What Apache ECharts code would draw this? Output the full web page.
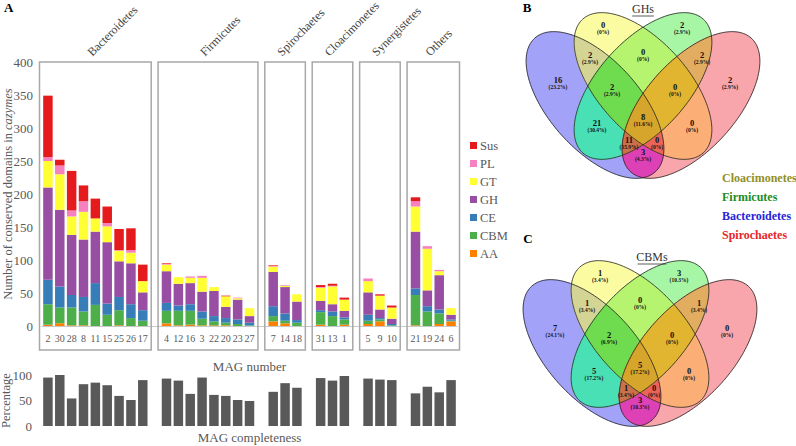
<!DOCTYPE html>
<html><head><meta charset="utf-8">
<script src="https://cdn.jsdelivr.net/npm/echarts@6/dist/echarts.min.js"></script>
<style>html,body{margin:0;padding:0;background:#fff}#c{width:796px;height:446px}</style>
</head><body><div id="c"></div>
<script>
// ---------- DATA ----------
const groups = ['Bacteroidetes','Firmicutes','Spirochaetes','Cloacimonetes','Synergistetes','Others'];
const groupMags = [
  ['2','30','28','8','11','15','25','26','17'],
  ['4','12','16','3','22','20','23','27'],
  ['7','14','18'],
  ['31','13','1'],
  ['5','9','10'],
  ['21','19','24','6']
];
// values per MAG, in the flattened order of groupMags
const AA  = [2,4,1,1,0,0,1,0,0,   4,1,2,1,1,1,0,0,   7,4,0,  2,0,2,  3,7,0,  1,0,3,7];
const CBM = [31,24,27,21,32,17,23,12,8, 19,22,21,10,6,4,3,1, 8,4,5, 19,15,8, 5,3,1, 46,22,16,1];
const CE  = [37,32,19,22,33,17,20,21,16, 12,8,10,11,8,7,7,4, 15,11,4, 3,7,3, 9,2,2, 10,8,6,2];
const GH  = [140,116,91,87,78,93,54,62,27, 48,33,32,30,38,17,30,10, 52,40,28, 14,11,10, 34,13,8, 86,24,52,7];
const GT  = [40,54,28,42,20,24,16,16,17, 10,10,8,21,6,16,2,12, 8,2,11, 20,27,17, 17,21,17, 38,63,6,10];
const PL  = [6,13,9,16,0,5,1,4,0, 1,0,2,3,0,0,1,0, 1,1,0, 1,1,0, 4,0,0, 8,4,2,0];
const Sus = [93,9,60,24,30,25,32,33,25, 1,0,0,0,0,1,0,0, 1,0,0, 3,3,3, 0,2,3, 6,0,0,0];
const completeness = [95,100,54,82,85,80,59,51,90, 93,89,63,95,61,59,51,49, 67,84,75, 94,89,98, 93,91,90, 64,77,66,90];
const yTicks = [0,50,100,150,200,250,300,350,400];

// Venn region order: yOnly, gOnly, by, yg, gp, bOnly, byg, ygp, pOnly, bg, all, yp, bgp, byp, bp
const vennGH  = [0,2,2,0,2,16,2,0,2,21,8,0,11,0,3];
const vennCBM = [1,3,1,0,1,7,2,0,0,5,5,0,1,0,3];
const vennSets = ['Cloacimonetes','Firmicutes','Bacteroidetes','Spirochaetes'];

// ---------- BUILD ----------
const FONT = 'Liberation Serif';
const GRAY = '#595959';
const colors = {AA:'#ff7f00', CBM:'#4daf4a', CE:'#377eb8', GH:'#984ea3', GT:'#ffff33', PL:'#f781bf', Sus:'#e41a1c'};
const seriesVals = {AA, CBM, CE, GH, GT, PL, Sus};
const stackOrder = ['AA','CBM','CE','GH','GT','PL','Sus'];

const cats = []; const slotOf = []; const groupSlots = [];
groupMags.forEach((g, gi) => {
  const s0 = cats.length;
  g.forEach(m => { slotOf.push(cats.length); cats.push(m); });
  groupSlots.push([s0, cats.length - 1]);
  if (gi < groupMags.length - 1) cats.push('');
});
function spread(arr) {
  const out = cats.map(() => '-');
  arr.forEach((v, i) => { out[slotOf[i]] = v; });
  return out;
}
// half-slot axis used to place the phylum names just left of the box centres
const halfCats = [];
for (let j = 0; j <= cats.length * 2; j++) halfCats.push('');
groupSlots.forEach((s, gi) => { halfCats[s[0] + s[1]] = groups[gi]; });

const series = stackOrder.map(n => ({
  name: n, type: 'bar', stack: 'a', xAxisIndex: 0, yAxisIndex: 0,
  barWidth: '80%', itemStyle: {color: colors[n]}, data: spread(seriesVals[n])
}));
series.push({
  name: 'completeness', type: 'bar', xAxisIndex: 1, yAxisIndex: 1,
  barWidth: '80%', itemStyle: {color: GRAY}, data: spread(completeness)
});

const chart = echarts.init(document.getElementById('c'), null, {renderer: 'svg'});
chart.setOption({
  animation: false,
  color: stackOrder.map(n => colors[n]),
  grid: [
    {left: 42, width: 415, top: 62, height: 264, outerBoundsMode: 'none', containLabel: false},
    {left: 42, width: 415, top: 375, height: 51, outerBoundsMode: 'none', containLabel: false}
  ],
  xAxis: [
    {type: 'category', gridIndex: 0, data: cats,
     axisLine: {lineStyle: {color: '#c8c8c8', width: 1}}, axisTick: {show: false},
     axisLabel: {interval: 0, fontFamily: FONT, fontSize: 10, color: GRAY, margin: 7},
     name: 'MAG number', nameLocation: 'middle', nameGap: 34, nameMoveOverlap: false,
     nameTextStyle: {fontFamily: FONT, fontSize: 13, color: GRAY}},
    {type: 'category', gridIndex: 1, data: cats,
     axisLine: {show: false}, axisTick: {show: false}, axisLabel: {show: false},
     name: 'MAG completeness', nameLocation: 'middle', nameGap: 5, nameMoveOverlap: false,
     nameTextStyle: {fontFamily: FONT, fontSize: 13, color: GRAY}},
    {type: 'category', gridIndex: 0, position: 'top', data: halfCats, boundaryGap: false,
     axisLine: {show: false}, axisTick: {show: false}, splitLine: {show: false},
     axisLabel: {interval: 0, rotate: -45, margin: 8, fontFamily: FONT, fontSize: 12, color: '#404040'}}
  ],
  yAxis: [
    {type: 'value', gridIndex: 0, min: yTicks[0], max: yTicks[yTicks.length-1], interval: 50,
     axisLine: {show: false}, axisTick: {show: false}, splitLine: {show: false},
     axisLabel: {fontFamily: FONT, fontSize: 13, color: GRAY, margin: 9},
     name: '{a|Number of conserved domains in }{b|cazymes}', nameLocation: 'middle', nameGap: 28, nameRotate: 90,
     nameMoveOverlap: false,
     nameTextStyle: {rich: {a: {fontFamily: FONT, fontSize: 12.5, color: GRAY},
                            b: {fontFamily: FONT, fontSize: 12.5, color: GRAY, fontStyle: 'italic'}}}},
    {type: 'value', gridIndex: 1, min: 0, max: 100, interval: 50,
     axisLine: {show: false}, axisTick: {show: false}, splitLine: {show: false},
     axisLabel: {fontFamily: FONT, fontSize: 13, color: GRAY, margin: 10},
     name: 'Percentage', nameLocation: 'middle', nameGap: 30, nameRotate: 90, nameMoveOverlap: false,
     nameTextStyle: {fontFamily: FONT, fontSize: 12.5, color: GRAY}}
  ],
  legend: {
    orient: 'vertical', left: 465, top: 134, itemWidth: 7, itemHeight: 7, itemGap: 5,
    icon: 'rect', data: ['Sus','PL','GT','GH','CE','CBM','AA'],
    textStyle: {fontFamily: FONT, fontSize: 12.5, color: GRAY, padding: [0,0,0,-2]}
  },
  series: series
});

// ---------- DECORATIONS ----------
const G = [];
const slotW = 415 / cats.length;
const yTop = chart.convertToPixel({yAxisIndex: 0}, 400);
const yZero = chart.convertToPixel({yAxisIndex: 0}, 0);
groupSlots.forEach((s) => {
  const x0 = chart.convertToPixel({xAxisIndex: 0}, s[0]) - slotW / 2 - 2.5;
  const x1 = chart.convertToPixel({xAxisIndex: 0}, s[1]) + slotW / 2 + 2.5;
  G.push({type: 'rect', shape: {x: x0, y: yTop, width: x1 - x0, height: yZero + 24 - yTop},
          style: {fill: 'none', stroke: '#a8a8a8', lineWidth: 1.5}, z: 10});
});
G.push({type: 'text', x: 4, y: 1, style: {text: 'A', fontFamily: FONT, fontWeight: 'bold', fontSize: 13, fill: '#000'}});

// ----- Venn diagrams -----
function ell(cx, cy, a, b, deg) {
  const t = deg * Math.PI / 180, c = Math.cos(t), s = Math.sin(t), pts = [];
  for (let i = 0; i < 160; i++) {
    const q = i / 160 * 2 * Math.PI, u = a * Math.cos(q), v = b * Math.sin(q);
    pts.push([cx + u * c - v * s, cy + u * s + v * c]);
  }
  return pts;
}
function side(A, B, P) { return (B[0] - A[0]) * (P[1] - A[1]) - (B[1] - A[1]) * (P[0] - A[0]); }
function inter(A, B, P, Q) {
  const a1 = side(A, B, P), a2 = side(A, B, Q), t = a1 / (a1 - a2);
  return [P[0] + (Q[0] - P[0]) * t, P[1] + (Q[1] - P[1]) * t];
}
function clip(subject, poly) {
  let cx = 0, cy = 0; poly.forEach(p => { cx += p[0]; cy += p[1]; });
  const ctr = [cx / poly.length, cy / poly.length];
  const sg = Math.sign(side(poly[0], poly[1], ctr));
  let out = subject;
  for (let i = 0; i < poly.length && out.length; i++) {
    const A = poly[i], B = poly[(i + 1) % poly.length], inp = out; out = [];
    for (let j = 0; j < inp.length; j++) {
      const P = inp[(j + inp.length - 1) % inp.length], Q = inp[j];
      const qin = side(A, B, Q) * sg >= 0, pin = side(A, B, P) * sg >= 0;
      if (qin) { if (!pin) out.push(inter(A, B, P, Q)); out.push(Q); }
      else if (pin) out.push(inter(A, B, P, Q));
    }
  }
  return out;
}
// region colours by set mask (1 blue, 2 yellow, 4 green, 8 pink)
const regionColor = {1:'#a2a2f8', 2:'#fbfba2', 4:'#a6f6a6', 8:'#f8a6ac', 3:'#d4d494', 5:'#4ae0b6', 9:'#de40b6',
  6:'#b6f470', 10:'#fbae75', 12:'#e2ad60', 7:'#6edc4e', 13:'#cc704a', 11:'#ec6458', 14:'#e1b530', 15:'#d5a52c'};
const regionOff = [[-40,-58],[39,-58],[-53,-28],[0,-31],[59,-28],[-85,-3],[-31,4],[32,4],[87,-3],
                   [-46,40],[0,34],[49,40],[-14,57],[14,57],[0,69]];
function venn(cx, cy, vals, title, titleDx) {
  const A = 90, B = 45, DX = 48, DY = 19, ANG = 48;
  const E = [ell(cx - DX, cy + DY, A, B, ANG), ell(cx, cy, A, B, ANG), ell(cx, cy, A, B, -ANG), ell(cx + DX, cy + DY, A, B, -ANG)];
  const masks = [];
  for (let m = 1; m < 16; m++) masks.push(m);
  const bits = m => [0,1,2,3].filter(i => m & (1 << i));
  masks.sort((p, q) => bits(p).length - bits(q).length);
  masks.forEach(m => {
    const b = bits(m);
    let poly = E[b[0]];
    for (let i = 1; i < b.length; i++) poly = clip(poly, E[b[i]]);
    if (poly.length > 2) G.push({type: 'polygon', shape: {points: poly},
      style: {fill: regionColor[m], stroke: regionColor[m], lineWidth: 0.5}, z: 20 + b.length});
  });
  E.forEach(p => G.push({type: 'polygon', shape: {points: p},
                         style: {fill: 'none', stroke: '#222', lineWidth: 0.8}, z: 30}));
  const total = vals.reduce((p, v) => p + v, 0);
  vals.forEach((v, i) => {
    const x = cx + regionOff[i][0], y = cy + regionOff[i][1];
    const pct = v === 0 ? '0' : (v / total * 100).toFixed(1);
    G.push({type: 'text', x: x, y: y - 3.5, style: {text: String(v), fontFamily: FONT, fontWeight: 'bold', fontSize: 8.5,
            fill: '#111', textAlign: 'center', textVerticalAlign: 'middle'}, z: 31});
    G.push({type: 'text', x: x, y: y + 3.5, style: {text: '(' + pct + '%)', fontFamily: FONT, fontWeight: 'bold', fontSize: 5.5,
            fill: '#111', textAlign: 'center', textVerticalAlign: 'middle'}, z: 31});
  });
  const tx = cx + titleDx, ty = cy - 77;
  G.push({type: 'text', x: tx, y: ty, style: {text: title, fontFamily: FONT, fontSize: 12, fill: '#333',
          textAlign: 'center', textVerticalAlign: 'middle'}, z: 31});
  G.push({type: 'line', shape: {x1: tx - title.length * 3.6, y1: ty + 7, x2: tx + title.length * 3.6, y2: ty + 7},
          style: {stroke: '#333', lineWidth: 0.8}, z: 31});
}
venn(643, 86, vennGH, 'GHs', 0);
venn(640, 334, vennCBM, 'CBMs', 12);
G.push({type: 'text', x: 527, y: 7, style: {text: 'B', fontFamily: FONT, fontWeight: 'bold', fontSize: 13,
        fill: '#000', textAlign: 'center', textVerticalAlign: 'middle'}, z: 31});
G.push({type: 'text', x: 528, y: 238, style: {text: 'C', fontFamily: FONT, fontWeight: 'bold', fontSize: 13,
        fill: '#000', textAlign: 'center', textVerticalAlign: 'middle'}, z: 31});

const setColors = ['#8f8f2a', '#1e8c1e', '#2424d6', '#e8262b'];
vennSets.forEach((n, i) => {
  G.push({type: 'text', x: 722, y: 178 + i * 19, style: {text: n, fontFamily: FONT, fontWeight: 'bold', fontSize: 12,
          fill: setColors[i], textAlign: 'left', textVerticalAlign: 'middle'}, z: 31});
});

chart.setOption({graphic: G});
</script></body></html>
